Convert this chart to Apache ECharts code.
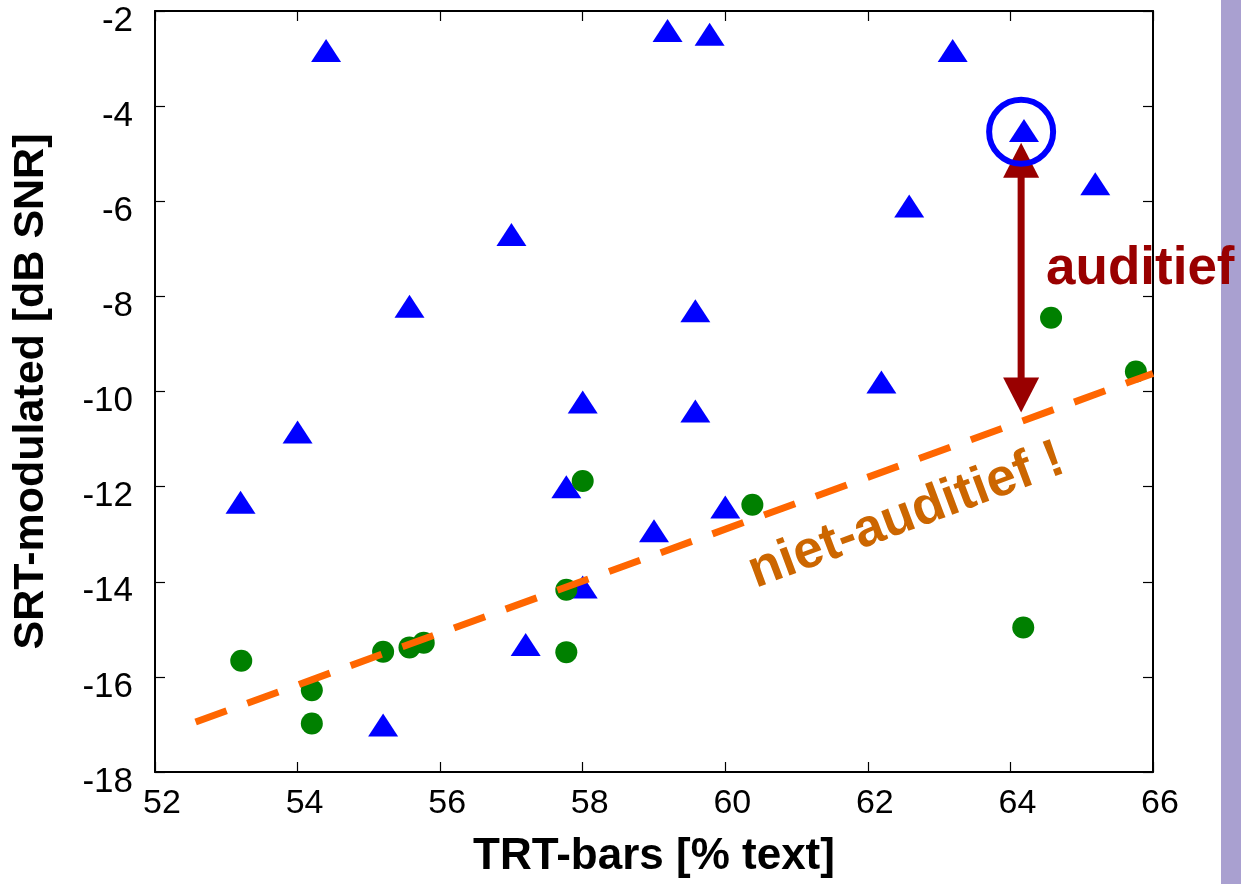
<!DOCTYPE html>
<html>
<head>
<meta charset="utf-8">
<script src="https://cdn.jsdelivr.net/npm/echarts@6/dist/echarts.min.js"></script>
<style>
html,body{margin:0;padding:0;background:#fff;}
#chart{width:1241px;height:884px;}
</style>
</head>
<body>
<div id="chart"></div>
<script>
// ---- data ----
var triX = [54.40, 59.19, 59.78, 63.19, 64.19, 65.19, 62.58, 57.00, 55.57, 59.58, 62.19, 58.00, 59.58, 54.00, 53.20, 57.77, 60.00, 59.00, 58.00, 57.20, 55.20];
var triY = [-2.83, -2.41, -2.49, -2.83, -4.51, -5.63, -6.10, -6.70, -8.21, -8.30, -9.80, -10.22, -10.41, -10.85, -12.33, -12.00, -12.43, -12.93, -14.11, -15.32, -17.01];
var circX = [53.21, 54.20, 54.20, 55.20, 55.57, 55.77, 58.00, 57.77, 57.77, 60.38, 64.57, 65.76, 64.18];
var circY = [-15.66, -16.28, -16.98, -15.47, -15.38, -15.28, -11.88, -14.17, -15.48, -12.38, -8.45, -9.58, -14.96];
var trendX = [52.57, 66.0];
var trendY = [-16.95, -9.62];
var arrowX = [64.15];
var arrowTop = [-4.77];
var arrowBottom = [-10.44];
var ringX = [64.15];
var ringY = [-4.54];
var annotTexts = ['auditief', 'niet-auditief !'];
var annotX = [64.50, 62.54];
var annotY = [-7.44, -12.62];
var xTicks = [52, 54, 56, 58, 60, 62, 64, 66];
var yTicks = [-18, -16, -14, -12, -10, -8, -6, -4, -2];
var xTitle = 'TRT-bars [% text]';
var yTitle = 'SRT-modulated [dB SNR]';

// ---- build ----
var FONT = "'Liberation Sans', Arial, sans-serif";
function zip(a, b) { return a.map(function (v, i) { return [v, b[i]]; }); }

var axisLineStyle = { color: '#000', width: 2 };
var tickStyle = { show: true, inside: true, length: 10, lineStyle: { color: '#000', width: 1.2 } };
var chart = echarts.init(document.getElementById('chart'), null, { renderer: 'canvas' });

var option = {
  animation: false,
  backgroundColor: '#fff',
  grid: { left: 155, right: 88, top: 11, bottom: 112, containLabel: false, outerBoundsMode: 'none' },
  xAxis: [
    {
      type: 'value', min: xTicks[0], max: xTicks[xTicks.length - 1], interval: 2, position: 'bottom',
      axisLine: { show: true, onZero: false, lineStyle: axisLineStyle },
      axisTick: tickStyle,
      splitLine: { show: false },
      axisLabel: { fontSize: 34, color: '#000', fontFamily: FONT, margin: 15, padding: [0, 0, 0, 14] },
      name: xTitle, nameLocation: 'middle', nameGap: 63,
      nameTextStyle: { fontSize: 44, fontWeight: 'bold', color: '#000', fontFamily: FONT }
    },
    {
      type: 'value', min: xTicks[0], max: xTicks[xTicks.length - 1], interval: 2, position: 'top',
      axisLine: { show: true, onZero: false, lineStyle: axisLineStyle },
      axisTick: tickStyle,
      splitLine: { show: false }, axisLabel: { show: false }
    }
  ],
  yAxis: [
    {
      type: 'value', min: yTicks[0], max: yTicks[yTicks.length - 1], interval: 2, position: 'left',
      axisLine: { show: true, onZero: false, lineStyle: axisLineStyle },
      axisTick: tickStyle,
      splitLine: { show: false },
      axisLabel: { fontSize: 35, color: '#000', fontFamily: FONT, margin: 22, verticalAlign: 'top', lineHeight: 20 },
      name: yTitle, nameLocation: 'middle', nameGap: 102,
      nameTextStyle: { fontSize: 43, fontWeight: 'bold', color: '#000', fontFamily: FONT }
    },
    {
      type: 'value', min: yTicks[0], max: yTicks[yTicks.length - 1], interval: 2, position: 'right',
      axisLine: { show: true, onZero: false, lineStyle: axisLineStyle },
      axisTick: tickStyle,
      splitLine: { show: false }, axisLabel: { show: false }
    }
  ],
  graphic: [
    { type: 'rect', left: 1221, top: 0, shape: { width: 20, height: 884 }, style: { fill: '#A9A0D0' }, z: -1 }
  ],
  series: [
    {
      type: 'scatter', name: 'triangles', data: zip(triX, triY),
      symbol: 'triangle', symbolSize: [30, 23],
      itemStyle: { color: '#0000FF', opacity: 1 }, z: 2
    },
    {
      type: 'scatter', name: 'circles', data: zip(circX, circY),
      symbol: 'circle', symbolSize: 22,
      itemStyle: { color: '#008000', opacity: 1 }, z: 3
    },
    {
      type: 'line', name: 'trend', data: zip(trendX, trendY), showSymbol: false, symbol: 'none',
      lineStyle: { color: '#FF6600', width: 7, type: [33, 22], cap: 'butt' }, z: 4, silent: true
    },
    {
      type: 'custom', name: 'arrow', z: 5, clip: false,
      data: arrowX.map(function (v, i) { return [v, arrowTop[i], arrowBottom[i]]; }),
      encode: { x: 0, y: [1, 2] },
      renderItem: function (params, api) {
        var p1 = api.coord([api.value(0), api.value(1)]);
        var p2 = api.coord([api.value(0), api.value(2)]);
        var hw = 18, hh = 35, col = '#990000';
        return {
          type: 'group', children: [
            { type: 'line', shape: { x1: p1[0], y1: p1[1] + hh - 2, x2: p2[0], y2: p2[1] - hh + 2 }, style: { stroke: col, lineWidth: 7 } },
            { type: 'polygon', shape: { points: [[p1[0], p1[1]], [p1[0] - hw, p1[1] + hh], [p1[0] + hw, p1[1] + hh]] }, style: { fill: col } },
            { type: 'polygon', shape: { points: [[p2[0], p2[1]], [p2[0] - hw, p2[1] - hh], [p2[0] + hw, p2[1] - hh]] }, style: { fill: col } }
          ]
        };
      }
    },
    {
      type: 'scatter', name: 'ring', data: zip(ringX, ringY), symbol: 'circle', symbolSize: 64,
      itemStyle: { color: 'rgba(0,0,0,0)', borderColor: '#0000FF', borderWidth: 6, opacity: 1 }, z: 6
    },
    {
      type: 'custom', name: 'annotations', z: 7, clip: false,
      data: annotX.map(function (v, i) { return [v, annotY[i], i]; }),
      encode: { x: 0, y: 1 },
      renderItem: function (params, api) {
        var idx = api.value(2);
        var p = api.coord([api.value(0), api.value(1)]);
        if (idx === 0) {
          return { type: 'text', x: p[0], y: p[1], style: { text: annotTexts[0], fill: '#990000', font: 'bold 53px ' + FONT, align: 'left', verticalAlign: 'middle' } };
        }
        return { type: 'text', x: p[0], y: p[1], rotation: 20.5 * Math.PI / 180, style: { text: annotTexts[1], fill: '#CC6600', font: 'bold 53px ' + FONT, align: 'center', verticalAlign: 'middle' } };
      }
    }
  ]
};
chart.setOption(option);
</script>
</body>
</html>
